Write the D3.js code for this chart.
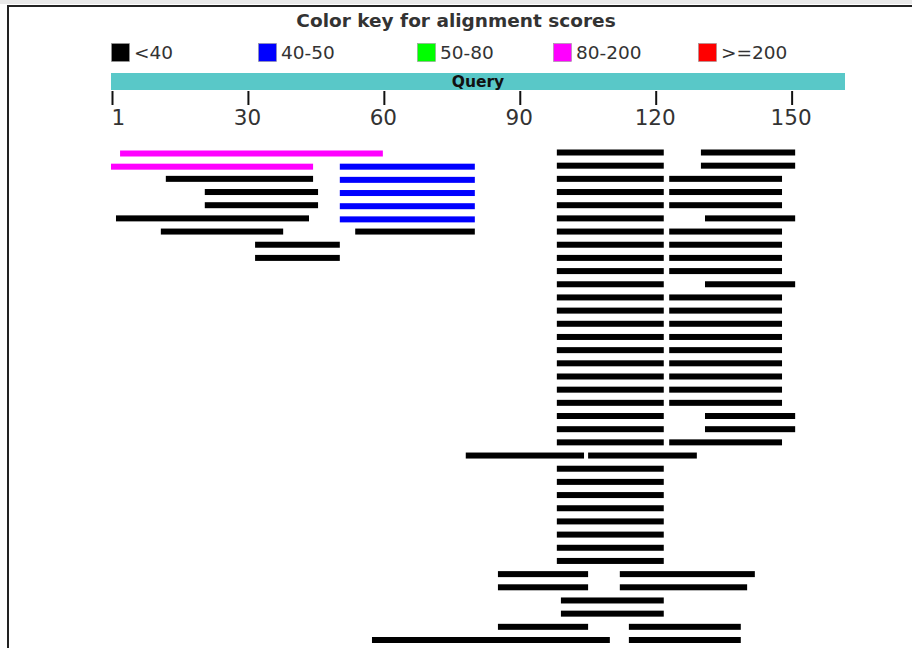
<!DOCTYPE html>
<html>
<head>
<meta charset="utf-8">
<script src="https://cdn.jsdelivr.net/npm/d3@7"></script>
<style>
  body { margin: 0; background: #fff; }
  svg text { font-family: "DejaVu Sans", Verdana, sans-serif; }
</style>
</head>
<body>
<div id="chart"></div>
<script>
// score key
var scoreBins = ["<40", "40-50", "50-80", "80-200", ">=200"];
var binColors = ["#000000", "#0000ff", "#00ff00", "#ff00ff", "#ff0000"];
var legendOffsets = [0, 147, 306, 442, 587];

// query ruler
var queryLength = 162;
var tickValues = [0, 30, 60, 90, 120, 150];
var tickLabels = ["1", "30", "60", "90", "120", "150"];

// one entry per hit row: [start, end, scoreBin]
var hitRows = [
  [[2, 60, 3], [98.4, 122, 0], [130.2, 151, 0]],
  [[0, 44.6, 3], [50.5, 80.3, 1], [98.4, 122, 0], [130.2, 151, 0]],
  [[12.1, 44.6, 0], [50.5, 80.3, 1], [98.4, 122, 0], [123.2, 148.1, 0]],
  [[20.7, 45.7, 0], [50.5, 80.3, 1], [98.4, 122, 0], [123.2, 148.1, 0]],
  [[20.7, 45.7, 0], [50.5, 80.3, 1], [98.4, 122, 0], [123.2, 148.1, 0]],
  [[1.1, 43.7, 0], [50.5, 80.3, 1], [98.4, 122, 0], [131.1, 151, 0]],
  [[11, 38, 0], [53.9, 80.3, 0], [98.4, 122, 0], [123.2, 148.1, 0]],
  [[31.8, 50.5, 0], [98.4, 122, 0], [123.2, 148.1, 0]],
  [[31.8, 50.5, 0], [98.4, 122, 0], [123.2, 148.1, 0]],
  [[98.4, 122, 0], [123.2, 148.1, 0]],
  [[98.4, 122, 0], [131.1, 151, 0]],
  [[98.4, 122, 0], [123.2, 148.1, 0]],
  [[98.4, 122, 0], [123.2, 148.1, 0]],
  [[98.4, 122, 0], [123.2, 148.1, 0]],
  [[98.4, 122, 0], [123.2, 148.1, 0]],
  [[98.4, 122, 0], [123.2, 148.1, 0]],
  [[98.4, 122, 0], [123.2, 148.1, 0]],
  [[98.4, 122, 0], [123.2, 148.1, 0]],
  [[98.4, 122, 0], [123.2, 148.1, 0]],
  [[98.4, 122, 0], [123.2, 148.1, 0]],
  [[98.4, 122, 0], [131.1, 151, 0]],
  [[98.4, 122, 0], [131.1, 151, 0]],
  [[98.4, 122, 0], [123.2, 148.1, 0]],
  [[78.3, 104.4, 0], [105.3, 129.3, 0]],
  [[98.4, 122, 0]],
  [[98.4, 122, 0]],
  [[98.4, 122, 0]],
  [[98.4, 122, 0]],
  [[98.4, 122, 0]],
  [[98.4, 122, 0]],
  [[98.4, 122, 0]],
  [[98.4, 122, 0]],
  [[85.4, 105.3, 0], [112.3, 142.1, 0]],
  [[85.4, 105.3, 0], [112.3, 140.4, 0]],
  [[99.3, 122, 0]],
  [[99.3, 122, 0]],
  [[85.4, 105.3, 0], [114.3, 139, 0]],
  [[57.6, 110.1, 0], [114.3, 139, 0]]
];

var WIDTH = 912, HEIGHT = 648;
var LEFT = 111, RIGHT = 845;

var svg = d3.select("#chart").append("svg")
    .attr("width", WIDTH)
    .attr("height", HEIGHT);

// frame (top strip + border of the surrounding box)
svg.append("rect").attr("x", 0).attr("y", 0).attr("width", WIDTH).attr("height", 4).attr("fill", "#e9e9e9");
svg.append("rect").attr("x", 7).attr("y", 5).attr("width", WIDTH - 7).attr("height", 2).attr("fill", "#222");
svg.append("rect").attr("x", 7).attr("y", 5).attr("width", 2).attr("height", HEIGHT - 5).attr("fill", "#222");

var x = d3.scaleLinear()
    .domain([0, queryLength])
    .range([LEFT, RIGHT]);

svg.append("text")
    .attr("x", 456).attr("y", 27)
    .attr("text-anchor", "middle")
    .attr("font-size", 18.5).attr("font-weight", "bold")
    .attr("fill", "#333")
    .text("Color key for alignment scores");

var legend = svg.append("g").attr("transform", "translate(" + LEFT + ",43)");
var item = legend.selectAll("g")
    .data(scoreBins)
    .enter().append("g")
    .attr("transform", function(d, i) { return "translate(" + legendOffsets[i] + ",0)"; });
item.append("rect")
    .attr("x", 0.5).attr("y", 0.5)
    .attr("width", 18).attr("height", 18)
    .attr("fill", function(d, i) { return binColors[i]; })
    .attr("stroke", "#999").attr("stroke-width", 0.6);
item.append("text")
    .attr("x", 23).attr("y", 16)
    .attr("font-size", 18.5)
    .attr("fill", "#333")
    .text(function(d) { return d; });

// query bar
svg.append("rect")
    .attr("x", x(0)).attr("y", 73)
    .attr("width", x(queryLength) - x(0)).attr("height", 17)
    .attr("fill", "#59c8c8");
svg.append("text")
    .attr("x", (x(0) + x(queryLength)) / 2).attr("y", 87)
    .attr("text-anchor", "middle")
    .attr("font-size", 15.5).attr("font-weight", "bold")
    .attr("fill", "#111")
    .text("Query");

// ruler
var axis = d3.axisBottom(x)
    .tickValues(tickValues)
    .tickFormat(function(d, i) { return tickLabels[i]; })
    .tickSize(14)
    .tickPadding(5);
var ax = svg.append("g")
    .attr("transform", "translate(0,91)")
    .call(axis);
ax.select(".domain").remove();
ax.selectAll(".tick line").attr("stroke", "#111").attr("stroke-width", 2)
    .attr("transform", "translate(1,0)");
ax.selectAll(".tick text")
    .attr("font-family", "DejaVu Sans, Verdana, sans-serif")
    .attr("font-size", 21.5)
    .attr("fill", "#333");
ax.selectAll(".tick text").filter(function(d, i) { return i === 0; })
    .attr("text-anchor", "start");

// hits
var y = d3.scaleLinear()
    .domain([0, hitRows.length - 1])
    .range([152.5, 640]);

var segs = [];
hitRows.forEach(function(row, r) {
  row.forEach(function(s) { segs.push({ row: r, start: s[0], end: s[1], bin: s[2] }); });
});

svg.append("g").attr("id", "hits")
  .selectAll("rect")
  .data(segs)
  .enter().append("rect")
    .attr("x", function(d) { return x(d.start); })
    .attr("y", function(d) { return y(d.row) - 3 + (d.bin ? 1 : 0); })
    .attr("width", function(d) { return x(d.end) - x(d.start); })
    .attr("height", 6)
    .attr("fill", function(d) { return binColors[d.bin]; });
</script>
</body>
</html>
